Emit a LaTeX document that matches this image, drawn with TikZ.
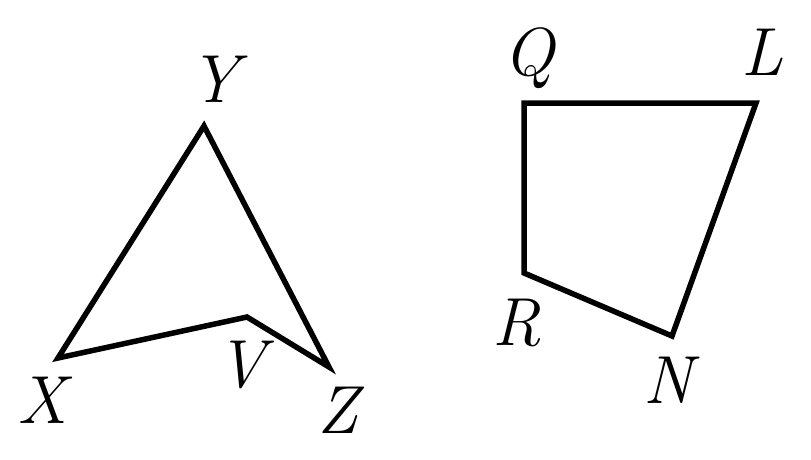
\documentclass[tikz,border=0pt]{standalone}
\usepackage{fontspec}
\begin{document}
\begin{tikzpicture}[x=1pt,y=-1pt,
  edge/.style={line width=5.5pt,line join=miter,black},
  lbl/.style={font=\fontsize{68}{72}\selectfont\itshape,inner sep=0pt,anchor=base}]
\useasboundingbox (0,0) rectangle (811,460);
\fill[white] (0,0) rectangle (811,460);
% left figure
\coordinate (X) at (58,358);
\coordinate (Y) at (204,126);
\coordinate (Z) at (329,367);
\coordinate (V) at (247,317);
\draw[edge] (X) -- (Y) -- (Z) -- (V) -- cycle;
\node[lbl] (lY) at (214,102) {Y};
\node[lbl] (lX) at (42,423) {X};
\node[lbl] (lV) at (241,387) {V};
\node[lbl] (lZ) at (338,433) {Z};
% right figure
\coordinate (Q) at (524,103);
\coordinate (L) at (756,103);
\coordinate (N) at (672,336);
\coordinate (R) at (524,273);
\draw[edge] (Q) -- (L) -- (N) -- (R) -- cycle;
\node[lbl] (lQ) at (529,75) {Q};
\node[lbl] (lL) at (762,75) {L};
\node[lbl] (lR) at (517,345) {R};
\node[lbl] (lN) at (668,403) {N};
\end{tikzpicture}
\end{document}
